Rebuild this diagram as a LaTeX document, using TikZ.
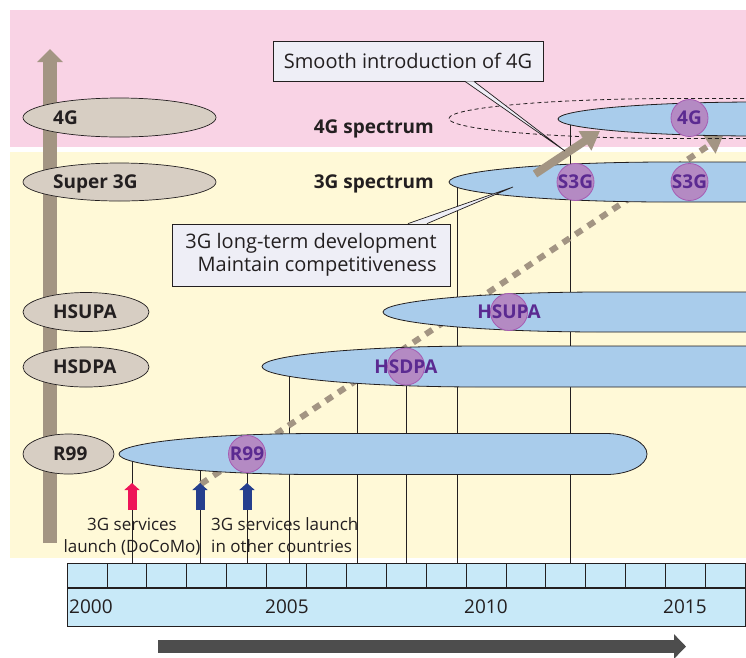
\documentclass[tikz,border=0pt]{standalone}
\usepackage{fontspec}
\setmainfont{Open Sans}
\usetikzlibrary{shapes.geometric,arrows.meta,positioning}

\definecolor{inkgray}{HTML}{231F20}
\definecolor{bandpink}{HTML}{F9D3E5}
\definecolor{bandyellow}{HTML}{FFF9D7}
\definecolor{specblue}{HTML}{A9CCEB}
\definecolor{techgray}{HTML}{D7CEC3}
\definecolor{taupe}{HTML}{A39583}
\definecolor{circfill}{HTML}{B48AC3}
\definecolor{circline}{HTML}{A65BB3}
\definecolor{circtext}{HTML}{5B2A91}
\definecolor{boxfill}{HTML}{EEEEF6}
\definecolor{axisblue}{HTML}{C8E9F8}
\definecolor{launchred}{HTML}{EE1558}
\definecolor{launchblue}{HTML}{253F8E}
\definecolor{darkarrow}{HTML}{4D4D4D}

% #2 left tip x, #3 centre y, #4 half height, #5 taper length
\newcommand{\specband}[5][spec]{%
  \path[#1] (#2,#3) .. controls (#2,#3-0.55*#4) and (#2+0.45*#5,#3-#4) .. (#2+#5,#3-#4)
    -- (790,#3-#4) -- (790,#3+#4) -- (#2+#5,#3+#4)
    .. controls (#2+0.45*#5,#3+#4) and (#2,#3+0.55*#4) .. cycle;}

\begin{document}
\begin{tikzpicture}[x=1pt,y=-1pt,
    every node/.style={text=inkgray},
    tech/.style={ellipse,draw=inkgray,fill=techgray,line width=0.7pt,inner sep=0pt},
    techlbl/.style={anchor=west,inner sep=0pt,text height=13.6pt,text depth=0pt,
      font=\bfseries\fontsize{19}{19}\selectfont},
    spec/.style={draw=inkgray,fill=specblue,line width=0.8pt},
    specring/.style={draw=inkgray,line width=0.8pt,dash pattern=on 4pt off 3pt},
    speclbl/.style={anchor=base east,inner sep=0pt,font=\bfseries\fontsize{19}{19}\selectfont},
    rel/.style={circle,draw=circline,fill=circfill,line width=0.8pt,minimum size=37pt,inner sep=0pt},
    rellbl/.style={text=circtext,inner sep=0pt,text height=13.6pt,text depth=0pt,
      font=\bfseries\fontsize{19}{19}\selectfont},
    note/.style={draw=inkgray,fill=boxfill,line width=0.8pt,inner sep=0pt,
      font=\fontsize{20}{23}\selectfont},
    tail/.style={draw=inkgray,fill=boxfill,line width=0.7pt},
    vline/.style={draw=inkgray,line width=0.8pt},
    flow/.style={taupe,line width=8pt,-{Triangle[width=22pt,length=18pt]}},
    dashflow/.style={taupe,line width=6pt,dash pattern=on 8pt off 7pt,-{Triangle[width=20pt,length=16pt]}},
    launch/.style={line width=9pt,-{Triangle[width=15pt,length=7pt]}},
    launchcap/.style={inner sep=0pt,font=\fontsize{17}{22}\selectfont},
    axiscell/.style={draw=inkgray,fill=axisblue,line width=0.8pt,inner sep=0pt,anchor=north west},
    yearlbl/.style={anchor=base west,inner sep=0pt,font=\fontsize{19}{19}\selectfont}
  ]
  \useasboundingbox (0,0) rectangle (746,657);
  \clip (0,0) rectangle (746,657);

  \fill[bandpink] (10,10) rectangle (746,147);
  \fill[bandyellow] (10,152) rectangle (746,558);

  \draw[taupe,line width=14pt,-{Triangle[width=25pt,length=13pt]}] (50,543) -- (50,49);

  \node[axiscell,minimum width=678pt,minimum height=24pt] (ticks) at (67,563) {};
  \node[axiscell,minimum width=678pt,minimum height=38pt] (years) at (ticks.south west) {};
  \foreach \i in {1,...,16}
    \draw[vline] (67+39.9*\i,563) -- (67+39.9*\i,587);
  \foreach \yr/\yx in {2000/69,2005/265,2010/464,2015/663}
    \node[yearlbl] at (\yx,613) {\yr};

  \foreach \vx/\vy in {132/454,200/454,247/454,289/366,357/366,406/366,457/182,570/118} {
    \coordinate (drop) at (\vx,\vy);
    \draw[vline] (drop) -- (drop |- ticks.north);
  }

  \draw[dashflow] (201,484) -- (723,136);

  \path[spec] (119,454) .. controls (119,442.7) and (209,433.5) .. (319,433.5) -- (606,433.5)
    .. controls (628.6,433.5) and (647,442.7) .. (647,454)
    .. controls (647,465.3) and (628.6,474.5) .. (606,474.5) -- (319,474.5)
    .. controls (209,474.5) and (119,465.3) .. cycle;
  \specband{262}{366.5}{20.5}{220}
  \specband{383}{312}{20}{220}
  \specband{449}{182}{20}{220}
  \specband[specring]{449}{118.5}{20}{230}
  \specband{558}{119}{17}{200}

  \draw[flow] (535,174) -- (600,131);

  \node[rel] (r99) at (247,454) {};
  \node[rellbl] at (r99) {R99};
  \node[rel] (hsdpa) at (406,366.5) {};
  \node[rellbl] at (hsdpa) {HSDPA};
  \node[rel] (hsupa) at (509,312) {};
  \node[rellbl] at (hsupa) {HSUPA};
  \node[rel] (s3ga) at (575.5,182) {};
  \node[rellbl] at (s3ga) {S3G};
  \node[rel] (s3gb) at (689.5,182) {};
  \node[rellbl] at (s3gb) {S3G};
  \node[rel] (fourg) at (689.5,118) {};
  \node[rellbl] at (fourg) {4G};

  \node[tech,minimum width=193pt,minimum height=39pt] (t4g) at (119.5,117.5) {};
  \node[techlbl] at (53,117.5) {4G};
  \node[tech,minimum width=193pt,minimum height=38pt] (ts3g) at (119.5,182) {};
  \node[techlbl] at (53,182) {Super 3G};
  \node[tech,minimum width=126pt,minimum height=39pt] (thsupa) at (86,312) {};
  \node[techlbl] at (53,312) {HSUPA};
  \node[tech,minimum width=126pt,minimum height=40pt] (thsdpa) at (86,367) {};
  \node[techlbl] at (53,367) {HSDPA};
  \node[tech,minimum width=91pt,minimum height=40pt] (tr99) at (68.5,454) {};
  \node[techlbl] at (53,454) {R99};

  \node[speclbl] (spec4g) at (434,133) {4G spectrum};
  \node[speclbl] (spec3g) at (434,188) {3G spectrum};

  \node[note,minimum width=270pt,minimum height=40pt] (smooth) at (408,61) {Smooth introduction of 4G};
  \coordinate (smoothtip) at (565,151);
  \path[tail] ([xshift=57pt]smooth.south) -- (smoothtip) -- ([xshift=66pt]smooth.south);

  \node[note,minimum width=278pt,minimum height=62pt,align=right] (longterm) at (311,255)
    {3G long-term development\\Maintain competitiveness};
  \coordinate (longtermtip) at (513,187);
  \path[tail] ([xshift=97pt]longterm.north) -- (longtermtip) -- ([xshift=116pt]longterm.north);

  \draw[launch,launchred] (132,510) -- (132,483);
  \draw[launch,launchblue] (200,510) -- (200,483);
  \draw[launch,launchblue] (247,510) -- (247,483);

  \node[launchcap,align=center,anchor=north] (docomo) at (132,518) {3G services\\launch (DoCoMo)};
  \node[launchcap,align=left,anchor=north west] (others) at (211,517) {3G services launch\\in other countries};

  \draw[darkarrow,line width=13pt,-{Triangle[width=24pt,length=12pt]}] (158,646.5) -- (686,646.5);
\end{tikzpicture}
\end{document}
